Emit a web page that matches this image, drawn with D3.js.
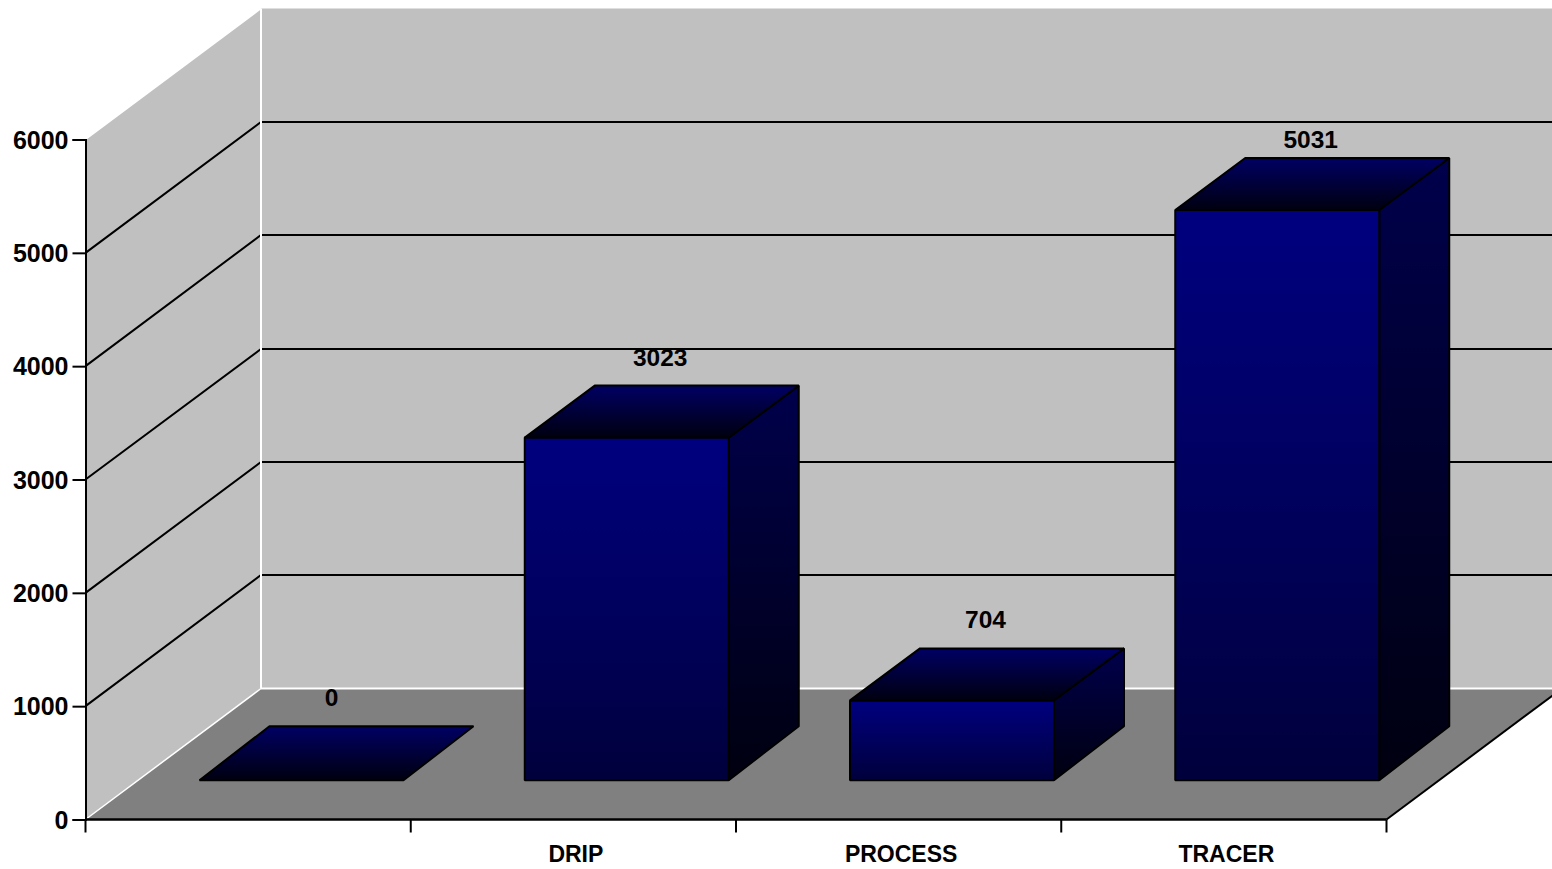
<!DOCTYPE html>
<html>
<head>
<meta charset="utf-8">
<script src="https://cdn.jsdelivr.net/npm/d3@7/dist/d3.min.js"></script>
<style>
html,body{margin:0;padding:0;background:#fff;overflow:hidden}
svg{display:block}
text{font-family:"Liberation Sans",Arial,sans-serif;font-weight:bold;font-size:24.5px;fill:#000;font-kerning:normal}
.ytick text{font-size:25px}
.xlabel{font-size:23px}
</style>
</head>
<body>
<script>
const categories = ["", "DRIP", "PROCESS", "TRACER"];
const values = [0, 3023, 704, 5031];
const yTicks = [0, 1000, 2000, 3000, 4000, 5000, 6000];

const W = 1552, H = 869;
const left = 85.5, right = 1386.5, floorY = 819.5, topY = 139.5;
const depthX = 175.5, depthY = 131;           // full depth of the 3D box
const barInset = 0.30;                        // bar position within the depth
const bdx = 70, bdy = 54;                     // bar depth
const x = d3.scaleBand().domain(categories).range([left, right]);
const y = d3.scaleLinear().domain([0, 6000]).range([floorY, topY]);
const barW = 204;
const barOffset = 114;

const svg = d3.select("body").append("svg").attr("width", W).attr("height", H);
const defs = svg.append("defs");
function grad(id, top, bottom){
  const g = defs.append("linearGradient").attr("id", id).attr("x1",0).attr("y1",0).attr("x2",0).attr("y2",1);
  g.append("stop").attr("offset",0).attr("stop-color",top);
  g.append("stop").attr("offset",1).attr("stop-color",bottom);
}
grad("gFront", "#000080", "#00003c");
grad("gSide", "#00004c", "#000010");
grad("gTop", "#000064", "#000010");

const line = d3.line();
const bx = depthX, by = depthY;

// back wall
svg.append("path").attr("d", line([[left+bx,y(6000)-by],[W+20,y(6000)-by],[W+20,y(0)-by],[left+bx,y(0)-by]])+"Z").attr("fill","#c0c0c0");
// side wall
svg.append("path").attr("d", line([[left,y(0)],[left+bx,y(0)-by],[left+bx,y(6000)-by],[left,y(6000)]])+"Z").attr("fill","#c0c0c0");
// floor
svg.append("path").attr("d", line([[left,y(0)],[right,y(0)],[right+bx,y(0)-by],[left+bx,y(0)-by]])+"Z").attr("fill","#808080");

// grid
yTicks.filter(v => v > 0 && v < 6000).forEach(v => {
  const wy = Math.round(y(v)-by);
  svg.append("path").attr("d", line([[left,y(v)],[left+bx,wy],[W+20,wy]])).attr("fill","none").attr("stroke","#000").attr("stroke-width",2);
});

// white edges
svg.append("path").attr("d", line([[left+bx,y(6000)-by],[left+bx,y(0)-by]])).attr("stroke","#fff").attr("stroke-width",2);
svg.append("path").attr("d", line([[left+bx,y(0)-by],[W+20,y(0)-by]])).attr("stroke","#fff").attr("stroke-width",2);
svg.append("path").attr("d", line([[left,y(0)],[left+bx,y(0)-by]])).attr("stroke","#fff").attr("stroke-width",1.5);
svg.append("path").attr("d", line([[left,y(6000)],[left+bx,y(6000)-by]])).attr("stroke","#fff").attr("stroke-width",1.5);
// floor right edge
svg.append("path").attr("d", line([[right,y(0)],[right+bx,y(0)-by]])).attr("stroke","#000").attr("stroke-width",2);

// bars
const baseY = y(0) - by*barInset;
const bars = svg.append("g").selectAll("g").data(categories.map((c,i)=>({c,v:values[i]}))).join("g");
const stroke = s => s.attr("stroke","#000").attr("stroke-width",2).attr("stroke-linejoin","bevel");
bars.each(function(d){
  const g = d3.select(this);
  const x0 = x(d.c)+barOffset, x1 = x0+barW;
  const h = y(0)-y(d.v);
  const t = baseY-h;
  const backTop = h > 0 ? t-bdy+2 : t-bdy;
  if (h > 0) {
    g.append("path").attr("d", line([[x1,baseY],[x1+bdx,baseY-bdy],[x1+bdx,backTop],[x1,t]])+"Z").attr("fill","url(#gSide)").call(stroke);
    g.append("path").attr("d", line([[x0,baseY],[x1,baseY],[x1,t],[x0,t]])+"Z").attr("fill","url(#gFront)").call(stroke);
  }
  g.append("path").attr("d", line([[x0,t],[x1,t],[x1+bdx,backTop],[x0+bdx,backTop]])+"Z").attr("fill","url(#gTop)").call(stroke);
  g.append("text").attr("text-anchor","middle")
    .attr("x", x0+barW/2+(h > 0 ? 33.5 : 30))
    .attr("y", Math.max(backTop-20, 148))
    .text(d.v);
});

// y axis
const yAxis = d3.axisLeft(y).tickValues(yTicks).tickSize(13).tickPadding(4).tickFormat(d3.format("d"));
const gy = svg.append("g").attr("class","ytick").attr("transform",`translate(${left},0)`).call(yAxis);
gy.select(".domain").attr("stroke","#000").attr("stroke-width",2);
gy.selectAll(".tick line").attr("stroke","#000").attr("stroke-width",2);
gy.selectAll("text").attr("dy","0.34em");
gy.attr("font-family",null).attr("font-size",null);

// x axis
const xEdges = categories.map(c => x(c)).concat([right]);
svg.append("path").attr("d", line([[left,y(0)],[right,y(0)]])).attr("stroke","#000").attr("stroke-width",2.5);
svg.append("g").selectAll("line").data(xEdges).join("line")
  .attr("x1",d=>d).attr("x2",d=>d).attr("y1",y(0)).attr("y2",y(0)+13).attr("stroke","#000").attr("stroke-width",2);
svg.append("g").selectAll("text").data(categories).join("text")
  .attr("class","xlabel").attr("text-anchor","middle").attr("x",d=>x(d)+x.bandwidth()/2+2.5).attr("y",y(0)+42).text(d=>d);
</script>
</body>
</html>
